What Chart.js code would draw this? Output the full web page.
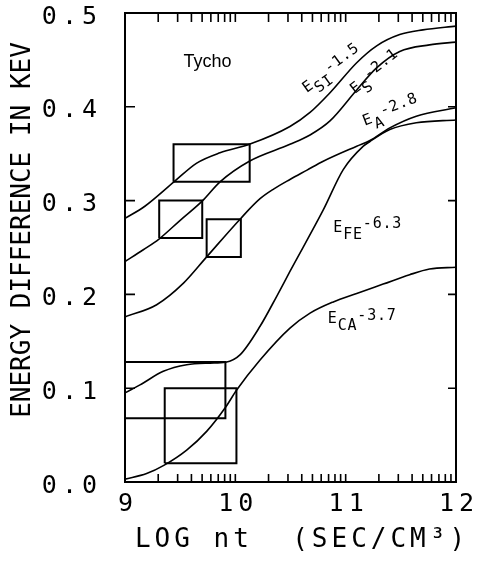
<!DOCTYPE html>
<html><head><meta charset="utf-8">
<script src="https://cdn.jsdelivr.net/npm/chart.js@4.4.1/dist/chart.umd.min.js"></script>
<style>html,body{margin:0;padding:0;background:#fff;}#wrap{width:481px;height:562px;}</style>
</head><body><div id="wrap"><canvas id="c" width="481" height="562"></canvas></div>
<script>
// ---- tick labels ----
const xTickValues = [9, 10, 11, 12];
const xTickLabels = ['9', '10', '11', '12'];
const yTickValues = [0, 0.1, 0.2, 0.3, 0.4, 0.5];
const yTickLabels = ['0.0', '0.1', '0.2', '0.3', '0.4', '0.5'];
const minorTickFactors = [2, 3, 4, 5, 6, 7, 8, 9, 10];

// ---- curves (log nt, keV) ----
const siX = [9.0, 9.18, 9.444, 9.65, 9.861, 10.127, 10.495, 10.677, 10.858, 11.10, 11.281, 11.49, 11.70, 12.0];
const siY = [0.281, 0.294, 0.320, 0.340, 0.351, 0.360, 0.379, 0.394, 0.415, 0.447, 0.465, 0.477, 0.482, 0.486];
const sX = [9.0, 9.166, 9.308, 9.50, 9.704, 9.861, 10.127, 10.495, 10.677, 10.858, 11.10, 11.28, 11.49, 11.76, 12.0];
const sY = [0.235, 0.2476, 0.259, 0.279, 0.300, 0.320, 0.342, 0.360, 0.370, 0.385, 0.418, 0.4415, 0.459, 0.466, 0.469];
const arX = [9.0, 9.287, 9.53, 9.74, 10.049, 10.224, 10.35, 10.495, 10.65, 10.797, 11.10, 11.22, 11.40, 11.64, 12.0];
const arY = [0.176, 0.189, 0.212, 0.240, 0.281, 0.302, 0.3125, 0.3225, 0.3325, 0.342, 0.358, 0.364, 0.3775, 0.390, 0.399];
const feX = [9.0, 9.136, 9.347, 9.559, 9.77, 9.913, 10.042, 10.224, 10.375, 10.495, 10.797, 10.978, 11.16, 11.22, 11.40, 11.64, 12.0];
const feY = [0.095, 0.1035, 0.118, 0.125, 0.1267, 0.1277, 0.1355, 0.166, 0.198, 0.2245, 0.290, 0.333, 0.358, 0.363, 0.3757, 0.383, 0.386];
const caX = [9.0, 9.196, 9.356, 9.559, 9.74, 9.913, 10.012, 10.224, 10.495, 10.677, 10.888, 11.10, 11.34, 11.58, 11.76, 12.0];
const caY = [0.003, 0.009, 0.018, 0.034, 0.054, 0.080, 0.098, 0.130, 0.164, 0.180, 0.192, 0.201, 0.211, 0.221, 0.227, 0.229];

// ---- boxes [xmin, xmax, ymin, ymax] ----
const boxSi = [9.44, 10.13, 0.32, 0.36];
const boxS = [9.31, 9.70, 0.26, 0.30];
const boxAr = [9.74, 10.05, 0.24, 0.28];
const boxFe = [9.00, 9.91, 0.068, 0.128];
const boxCa = [9.36, 10.01, 0.02, 0.10];

// ---- label texts ----
const curveLabels = [
  { main: 'E', sub: 'SI', rest: '-1.5', x: 10.888, y: 0.4379, angle: -36 },
  { main: 'E', sub: 'S', rest: '-2.1', x: 11.281, y: 0.4344, angle: -38 },
  { main: 'E', sub: 'A', rest: '-2.8', x: 11.417, y: 0.393, angle: -21 },
  { main: 'E', sub: 'FE', rest: '-6.3', x: 11.20, y: 0.2690, angle: 0 },
  { main: 'E', sub: 'CA', rest: '-3.7', x: 11.15, y: 0.1715, angle: 0 }
];
const titleText = 'Tycho';
const titlePos = { x: 9.748, y: 0.4477 };
const yTitle = 'ENERGY DIFFERENCE IN KEV';
const xTitle = 'LOG nt  (SEC/CM³)';

const MONO = '"DejaVu Sans Mono", monospace';

function pts(xs, ys) { return xs.map((x, i) => ({ x: x, y: ys[i] })); }
function boxPts(b) {
  return [{x:b[0],y:b[2]},{x:b[1],y:b[2]},{x:b[1],y:b[3]},{x:b[0],y:b[3]},{x:b[0],y:b[2]}];
}
function curveDs(xs, ys) {
  return { data: pts(xs, ys), borderColor: '#000', borderWidth: 1.6, pointRadius: 0,
    cubicInterpolationMode: 'monotone', fill: false };
}
function boxDs(b) {
  return { data: boxPts(b), borderColor: '#000', borderWidth: 2, pointRadius: 0,
    tension: 0, fill: false };
}

const framePlugin = {
  id: 'frame',
  beforeDraw(chart) { chart.ctx.letterSpacing = '5px'; },
  beforeDatasetsDraw(chart) { chart.ctx.letterSpacing = '0px'; },
  afterDraw(chart) {
    const ctx = chart.ctx, a = chart.chartArea, xs = chart.scales.x, ys = chart.scales.y;
    ctx.save();
    ctx.letterSpacing = '0px';
    ctx.strokeStyle = '#000';
    ctx.lineWidth = 2;
    ctx.strokeRect(a.left, a.top, a.right - a.left, a.bottom - a.top);
    ctx.lineWidth = 1.6;
    ctx.beginPath();
    yTickValues.forEach(v => {
      const py = ys.getPixelForValue(v);
      ctx.moveTo(a.left, py); ctx.lineTo(a.left + 10, py);
      ctx.moveTo(a.right, py); ctx.lineTo(a.right - 8, py);
    });
    for (let d = 9; d < 12; d++) {
      minorTickFactors.forEach(k => {
        const px = xs.getPixelForValue(d + Math.log10(k));
        ctx.moveTo(px, a.bottom); ctx.lineTo(px, a.bottom - 8);
        ctx.moveTo(px, a.top); ctx.lineTo(px, a.top + 9);
      });
    }
    ctx.stroke();

    ctx.fillStyle = '#000';
    // Tycho
    ctx.font = '18px "Liberation Sans", Arial, sans-serif';
    ctx.textAlign = 'center';
    ctx.textBaseline = 'middle';
    ctx.fillText(titleText, xs.getPixelForValue(titlePos.x), ys.getPixelForValue(titlePos.y));

    // curve labels
    const fs = 15;
    ctx.textBaseline = 'alphabetic';
    ctx.textAlign = 'left';
    ctx.letterSpacing = '0.8px';
    curveLabels.forEach(l => {
      ctx.save();
      ctx.translate(xs.getPixelForValue(l.x), ys.getPixelForValue(l.y));
      ctx.rotate(l.angle * Math.PI / 180);
      ctx.font = fs + 'px ' + MONO;
      const w1 = ctx.measureText(l.main).width;
      const w2 = ctx.measureText(l.sub).width;
      const w3 = ctx.measureText(l.rest).width;
      let x0 = -(w1 + w2 + w3) / 2;
      const base = 2;
      ctx.fillText(l.main, x0, base);
      ctx.fillText(l.sub, x0 + w1, base + 7);
      ctx.fillText(l.rest, x0 + w1 + w2, base - 3.5);
      ctx.restore();
    });

    // axis titles
    ctx.letterSpacing = '0px';
    ctx.font = '26px ' + MONO;
    ctx.textAlign = 'center';
    ctx.textBaseline = 'middle';
    ctx.save();
    ctx.translate(23, 230);
    ctx.rotate(-Math.PI / 2);
    ctx.fillText(yTitle, 0, 0);
    ctx.restore();
    ctx.letterSpacing = '4px';
    ctx.fillText(xTitle, 302, 540);
    ctx.restore();
  }
};

new Chart(document.getElementById('c'), {
  type: 'line',
  data: {
    datasets: [
      curveDs(siX, siY), curveDs(sX, sY), curveDs(arX, arY), curveDs(feX, feY), curveDs(caX, caY),
      boxDs(boxSi), boxDs(boxS), boxDs(boxAr), boxDs(boxFe), boxDs(boxCa)
    ]
  },
  options: {
    responsive: false,
    animation: false,
    devicePixelRatio: 1,
    layout: { padding: { top: 13, right: 25, left: 0, bottom: 0 } },
    plugins: { legend: { display: false }, tooltip: { enabled: false } },
    scales: {
      x: {
        type: 'linear', min: 9, max: 12,
        afterBuildTicks: s => { s.ticks = xTickValues.map(v => ({ value: v })); },
        afterFit: s => { s.height = 80; s.paddingLeft = 0; s.paddingRight = 0; },
        grid: { display: false, drawTicks: false },
        border: { display: false },
        ticks: { autoSkip: false, maxRotation: 0, padding: 10, labelOffset: 3, color: '#000',
          font: { family: MONO, size: 25, lineHeight: 1 },
          callback: (v, i) => xTickLabels[i] }
      },
      y: {
        type: 'linear', min: 0, max: 0.5,
        afterBuildTicks: s => { s.ticks = yTickValues.map(v => ({ value: v })); },
        afterFit: s => { s.width = 125; s.paddingTop = 0; s.paddingBottom = 0; },
        grid: { display: false, drawTicks: false },
        border: { display: false },
        ticks: { autoSkip: false, padding: 23, labelOffset: 4, color: '#000',
          font: { family: MONO, size: 25, lineHeight: 1 },
          callback: (v, i) => yTickLabels[i] }
      }
    }
  },
  plugins: [framePlugin]
});
</script></body></html>
